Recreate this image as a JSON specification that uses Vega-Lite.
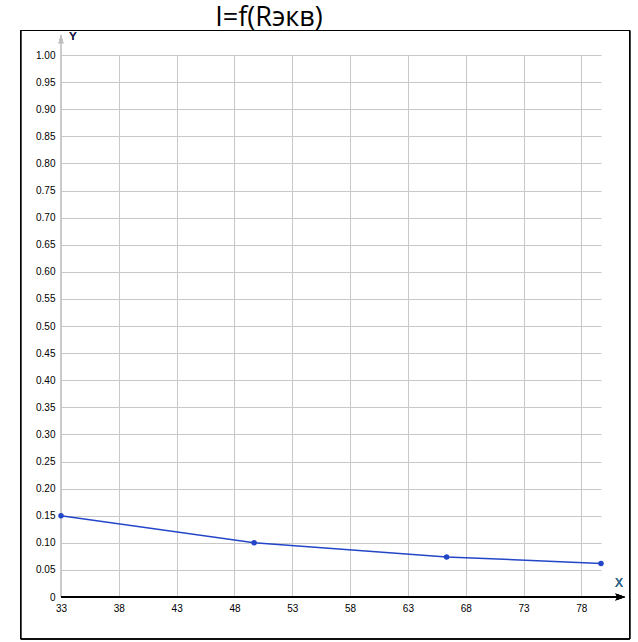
{
  "$schema": "https://vega.github.io/schema/vega-lite/v6.json",
  "width": 540,
  "height": 542,
  "autosize": {"type": "none"},
  "padding": {"left": 61, "top": 55, "right": 37, "bottom": 45},
  "background": "white",
  "config": {"view": {"stroke": null}},
  "title": {
    "text": "I=f(Rэкв)",
    "font": "Open Sans",
    "fontSize": 27,
    "fontWeight": "normal",
    "color": "#000000",
    "anchor": "middle",
    "dx": -62,
    "offset": -2
  },
  "data": {
    "values": [
      {"R": 33, "I": 0.15},
      {"R": 49.7, "I": 0.1},
      {"R": 66.35, "I": 0.074},
      {"R": 79.7, "I": 0.062}
    ]
  },
  "layer": [
    {
      "mark": {"type": "line", "color": "#2346c8", "strokeWidth": 1.5, "opacity": 0},
      "encoding": {
        "x": {
          "field": "R", "type": "quantitative",
          "scale": {"domain": [33, 79.7], "nice": false, "zero": false},
          "axis": {
            "title": null,
            "values": [33, 38, 43, 48, 53, 58, 63, 68, 73, 78],
            "tickCount": 30,
            "grid": true, "gridColor": "#c8c8c8", "gridWidth": 1,
            "domain": false, "ticks": false,
            "labelPadding": 6, "labelFlush": false, "labelOverlap": false,
            "labelFont": "Liberation Sans", "labelFontSize": 10, "labelColor": "#000000"
          }
        },
        "y": {
          "field": "I", "type": "quantitative",
          "scale": {"domain": [0, 1], "nice": false},
          "axis": {
            "title": null,
            "values": [0, 0.05, 0.1, 0.15, 0.2, 0.25, 0.3, 0.35, 0.4, 0.45, 0.5, 0.55, 0.6, 0.65, 0.7, 0.75, 0.8, 0.85, 0.9, 0.95, 1],
            "tickCount": 30,
            "labelExpr": "datum.value == 0 ? '0' : format(datum.value, '.2f')",
            "grid": true, "gridColor": "#c8c8c8", "gridWidth": 1,
            "domain": false, "ticks": false,
            "labelPadding": 6, "labelFlush": false, "labelOverlap": false,
            "labelFont": "Liberation Sans", "labelFontSize": 10, "labelColor": "#000000"
          }
        }
      }
    },
    {
      "mark": {"type": "rect", "fill": null, "stroke": "#000000", "strokeWidth": 1, "clip": false},
      "encoding": {
        "x": {"datum": 29.52, "type": "quantitative", "scale": {"domain": [33, 79.7], "nice": false, "zero": false}},
        "x2": {"datum": 82.19},
        "y": {"datum": 1.0452, "type": "quantitative", "scale": {"domain": [0, 1], "nice": false}},
        "y2": {"datum": -0.0775}
      }
    },
    {
      "mark": {"type": "rule", "color": "#c8c8c8", "strokeWidth": 1, "clip": false},
      "encoding": {
        "x": {"datum": 33, "type": "quantitative", "scale": {"domain": [33, 79.7], "nice": false, "zero": false}},
        "y": {"datum": 0, "type": "quantitative", "scale": {"domain": [0, 1], "nice": false}},
        "y2": {"datum": 1.025}
      }
    },
    {
      "mark": {"type": "point", "filled": true, "color": "#c0c0c0", "opacity": 1, "size": 81, "shape": "M0,-1L0.55,1L-0.55,1Z", "clip": false},
      "encoding": {
        "x": {"datum": 33, "type": "quantitative", "scale": {"domain": [33, 79.7], "nice": false, "zero": false}},
        "y": {"datum": 1.03, "type": "quantitative", "scale": {"domain": [0, 1], "nice": false}}
      }
    },
    {
      "mark": {"type": "rule", "color": "#000000", "strokeWidth": 1.5, "clip": false},
      "encoding": {
        "x": {"datum": 33, "type": "quantitative", "scale": {"domain": [33, 79.7], "nice": false, "zero": false}},
        "x2": {"datum": 81.4},
        "y": {"datum": 0, "type": "quantitative", "scale": {"domain": [0, 1], "nice": false}}
      }
    },
    {
      "mark": {"type": "point", "filled": true, "color": "#000000", "opacity": 1, "size": 100, "shape": "M1,0L-1,-0.7L-0.55,0L-1,0.7Z", "clip": false},
      "encoding": {
        "x": {"datum": 81.37, "type": "quantitative", "scale": {"domain": [33, 79.7], "nice": false, "zero": false}},
        "y": {"datum": 0, "type": "quantitative", "scale": {"domain": [0, 1], "nice": false}}
      }
    },
    {
      "mark": {"type": "line", "color": "#2346c8", "strokeWidth": 1.5},
      "encoding": {
        "x": {"field": "R", "type": "quantitative", "scale": {"domain": [33, 79.7], "nice": false, "zero": false}},
        "y": {"field": "I", "type": "quantitative", "scale": {"domain": [0, 1], "nice": false}}
      }
    },
    {
      "mark": {"type": "point", "filled": true, "color": "#2346c8", "size": 30, "opacity": 1},
      "encoding": {
        "x": {"field": "R", "type": "quantitative", "scale": {"domain": [33, 79.7], "nice": false, "zero": false}},
        "y": {"field": "I", "type": "quantitative", "scale": {"domain": [0, 1], "nice": false}}
      }
    },
    {
      "mark": {"type": "text", "text": "Y", "font": "Liberation Sans", "fontSize": 11, "color": "#222244", "align": "center", "baseline": "middle", "dx": 12, "clip": false},
      "encoding": {
        "x": {"datum": 33, "type": "quantitative", "scale": {"domain": [33, 79.7], "nice": false, "zero": false}},
        "y": {"datum": 1.034, "type": "quantitative", "scale": {"domain": [0, 1], "nice": false}}
      }
    },
    {
      "mark": {"type": "text", "text": "X", "font": "Liberation Sans", "fontSize": 12, "color": "#336688", "align": "center", "baseline": "middle", "dy": -14, "clip": false},
      "encoding": {
        "x": {"datum": 81.26, "type": "quantitative", "scale": {"domain": [33, 79.7], "nice": false, "zero": false}},
        "y": {"datum": 0, "type": "quantitative", "scale": {"domain": [0, 1], "nice": false}}
      }
    }
  ]
}
